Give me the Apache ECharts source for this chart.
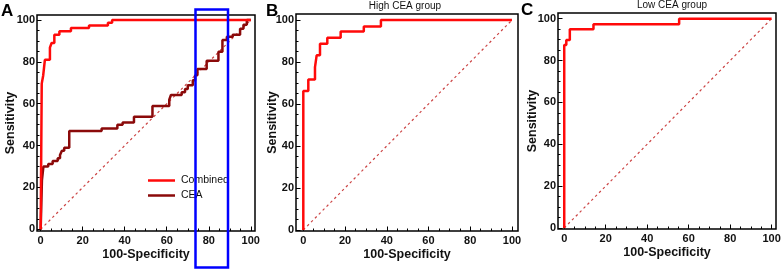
<!DOCTYPE html>
<html>
<head>
<meta charset="utf-8">
<script src="https://cdn.jsdelivr.net/npm/echarts@6/dist/echarts.min.js"></script>
<style>
	html, body { margin: 0; padding: 0; background: #fff; }
	#roc { width: 784px; height: 270px; }
</style>
</head>
<body>
<div id="roc"></div>
<script>
//////////// 데이터 ////////////
// ticks
var majorTicks = [0, 20, 40, 60, 80, 100];
var minorTicks = [5, 10, 15, 25, 30, 35, 45, 50, 55, 65, 70, 75, 85, 90, 95];

// A - Combined
var combinedX = [0, 0.5, 1.2, 2, 4.4, 5.2, 6.5, 8.9, 14.4, 23, 32, 34, 100];
var combinedY = [0, 69.6, 73.5, 81, 86.8, 89, 93, 94.6, 96.2, 97.4, 98.7, 100, 100];

// A - CEA
var ceaX = [0, 0.6, 1.3, 3.6, 5.7, 8.1, 9.2, 10.1, 11.2, 13.6, 29, 36.5, 39, 44.4, 53.2, 61.2, 62, 67.1, 68.7, 70,
	72.4, 73.5, 74.6, 79, 84.6, 86.5, 88.6, 91.4, 94.9, 96.5, 98.1, 100];
var ceaY = [0, 23.5, 30, 31.2, 32.6, 34, 35.5, 37.5, 39, 47, 48.2, 50, 51, 53.8, 58.9, 62, 64.2, 65.5, 67, 68.8,
	71.2, 73.6, 76.6, 80.5, 84.8, 90.5, 92, 93, 95.8, 97.8, 100, 100];

// B - High CEA group
var highX = [0, 0, 2.4, 5.6, 6.4, 8, 11.5, 17.9, 29, 37.2, 100];
var highY = [0, 66.2, 71.7, 77.6, 83.2, 88.7, 91.6, 94.6, 97, 100, 100];

// C - Low CEA group
var lowX = [0, 0, 1, 2.7, 14.1, 55.4, 100];
var lowY = [0, 87.4, 89.8, 94.9, 97.3, 100, 100];

// reference line
var diagX = [0, 100];
var diagY = [0, 100];

//////////// 유틸 ////////////
function zip(xs, ys) {
	return xs.map(function(x, i) { return [x, ys[i]]; });
}

var FONT = 'Liberation Sans, Arial, sans-serif';

// 축 (major + minor)
function makeX(gridIndex, min, max) {
	return [{
		gridIndex: gridIndex, type: 'value', min: min, max: max, position: 'bottom',
		name: '100-Specificity', nameLocation: 'middle', nameGap: 17, nameMoveOverlap: false,
		nameTextStyle: { fontFamily: FONT, fontSize: 12.5, fontWeight: 'bold', color: '#111' },
		axisLine: { show: false, onZero: false },
		splitLine: { show: false },
		axisTick: { inside: true, length: 4.5, customValues: majorTicks, lineStyle: { color: '#000', width: 1 } },
		axisLabel: { customValues: majorTicks, margin: 4, fontFamily: FONT, fontSize: 11, fontWeight: 'bold', color: '#111' }
	}, {
		gridIndex: gridIndex, type: 'value', min: min, max: max, position: 'bottom',
		axisLine: { show: false, onZero: false },
		splitLine: { show: false },
		axisLabel: { show: false },
		axisTick: { inside: true, length: 2.5, customValues: minorTicks, lineStyle: { color: '#000', width: 1 } }
	}];
}

function makeY(gridIndex, min, max, nameGap) {
	return [{
		gridIndex: gridIndex, type: 'value', min: min, max: max, position: 'left',
		name: 'Sensitivity', nameLocation: 'middle', nameGap: nameGap, nameMoveOverlap: false,
		nameTextStyle: { fontFamily: FONT, fontSize: 12.5, fontWeight: 'bold', color: '#111' },
		axisLine: { show: false, onZero: false },
		splitLine: { show: false },
		axisTick: { inside: true, length: 4.5, customValues: majorTicks, lineStyle: { color: '#000', width: 1 } },
		axisLabel: { customValues: majorTicks, margin: 2, fontFamily: FONT, fontSize: 11, fontWeight: 'bold', color: '#111' }
	}, {
		gridIndex: gridIndex, type: 'value', min: min, max: max, position: 'left',
		axisLine: { show: false, onZero: false },
		splitLine: { show: false },
		axisLabel: { show: false },
		axisTick: { inside: true, length: 2.5, customValues: minorTicks, lineStyle: { color: '#000', width: 1 } }
	}];
}

function rocSeries(name, xs, ys, color, idx) {
	return {
		name: name, type: 'line', step: 'end', symbol: 'none',
		xAxisIndex: idx * 2, yAxisIndex: idx * 2,
		lineStyle: { color: color, width: 2.5 },
		itemStyle: { color: color },
		data: zip(xs, ys), z: 5
	};
}

function diagSeries(idx) {
	return {
		name: 'diag' + idx, type: 'line', symbol: 'none',
		xAxisIndex: idx * 2, yAxisIndex: idx * 2,
		lineStyle: { color: '#cc4444', width: 1.2, type: [2.5, 3] },
		data: zip(diagX, diagY), z: 3
	};
}

var gridStyle = { show: true, borderColor: '#000', borderWidth: 1.5, backgroundColor: 'transparent' };

//////////// 차트 ////////////
var chart = echarts.init(document.getElementById('roc'), null, { renderer: 'canvas' });

var option = {
	animation: false,
	backgroundColor: '#fff',
	title: [
		{ text: 'A', left: 1, top: 3, padding: 0, textStyle: { fontFamily: FONT, fontSize: 17, fontWeight: 'bold', color: '#000' } },
		{ text: 'B', left: 266, top: 3, padding: 0, textStyle: { fontFamily: FONT, fontSize: 17, fontWeight: 'bold', color: '#000' } },
		{ text: 'C', left: 521, top: 2, padding: 0, textStyle: { fontFamily: FONT, fontSize: 17, fontWeight: 'bold', color: '#000' } },
		{ text: 'High CEA group', left: 405, top: 1, padding: 0, textAlign: 'center', textStyle: { fontFamily: FONT, fontSize: 10, fontWeight: 'normal', color: '#111' } },
		{ text: 'Low CEA group', left: 672, top: 0, padding: 0, textAlign: 'center', textStyle: { fontFamily: FONT, fontSize: 10, fontWeight: 'normal', color: '#111' } }
	],
	legend: {
		data: ['Combined', 'CEA'],
		orient: 'vertical', left: 148, top: 175, padding: 0,
		icon: 'rect', itemWidth: 27, itemHeight: 2.5, itemGap: 4,
		textStyle: { fontFamily: FONT, fontSize: 10.5, color: '#111', padding: [0, 0, 0, 1] }
	},
	grid: [
		Object.assign({ left: 37, top: 15, width: 218, height: 216 }, gridStyle),
		Object.assign({ left: 296, top: 14, width: 222, height: 217 }, gridStyle),
		Object.assign({ left: 558, top: 13, width: 218, height: 216 }, gridStyle)
	],
	xAxis: [].concat(makeX(0, -1.75, 102), makeX(1, -3.5, 102.9), makeX(2, -3, 102.1)),
	yAxis: [].concat(makeY(0, -0.8, 102.4, 20), makeY(1, -0.5, 102.9, 17), makeY(2, -0.5, 102.7, 19)),
	series: [
		diagSeries(0),
		diagSeries(1),
		diagSeries(2),
		rocSeries('CEA', ceaX, ceaY, '#8b0a0a', 0),
		rocSeries('Combined', combinedX, combinedY, '#ff0a0a', 0),
		rocSeries('High CEA', highX, highY, '#ff0a0a', 1),
		rocSeries('Low CEA', lowX, lowY, '#ff0a0a', 2)
	],
	// 강조 박스
	graphic: [{
		type: 'rect', z: 100,
		shape: { x: 195.5, y: 9.5, width: 32.5, height: 258 },
		style: { fill: 'none', stroke: '#0000ff', lineWidth: 2.5 }
	}]
};

chart.setOption(option);
</script>
</body>
</html>
